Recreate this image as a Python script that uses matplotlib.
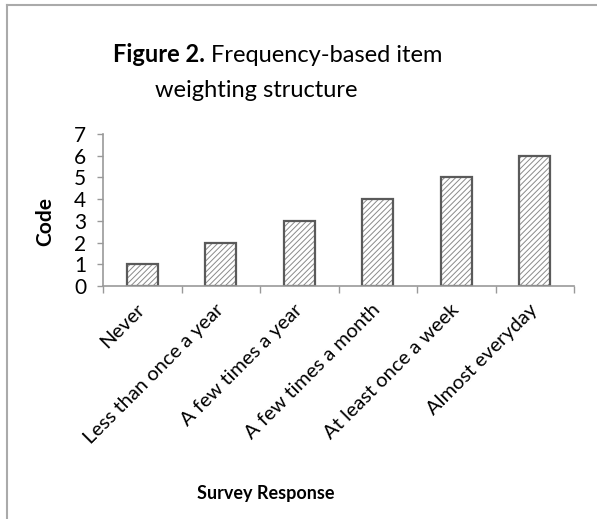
import matplotlib
matplotlib.use('Agg')
import matplotlib.pyplot as plt
from matplotlib.lines import Line2D

# 数据
categories = ['Never', 'Less than once a year', 'A few times a year',
              'A few times a month', 'At least once a week', 'Almost everyday']
codes = [1, 2, 3, 4, 5, 6]
y_ticks = [0, 1, 2, 3, 4, 5, 6, 7]

plt.rcParams['font.family'] = ['Lato', 'DejaVu Sans']
plt.rcParams['hatch.linewidth'] = 0.7

W, H = 597, 519
fig = plt.figure(figsize=(W / 100, H / 100), dpi=100)
ax = fig.add_axes([103 / W, 1 - 286 / H, (574 - 103) / W, (286 - 134) / H])

x = list(range(len(categories)))
# 斜线填充 + 外框分两次画
ax.bar(x, codes, width=0.4, color='white', edgecolor='#8a8a8a',
       linewidth=0, hatch='//////')
ax.bar(x, codes, width=0.4, color='none', edgecolor='#5a5a5a', linewidth=1.6)

ax.set_xlim(-0.5, len(categories) - 0.5)
ax.set_ylim(0, 7)
ax.set_yticks(y_ticks)
ax.tick_params(axis='y', labelsize=15, length=4, color='#999999', width=1, pad=8)
# x 轴刻度在类别边界
ax.set_xticks([i - 0.5 for i in range(len(categories) + 1)])
ax.set_xticklabels([])
ax.tick_params(axis='x', length=5, color='#999999', width=1)
ax.set_xticks(x, minor=True)
ax.set_xticklabels(categories, minor=True, rotation=45, ha='right',
                   va='center', rotation_mode='anchor', fontsize=14.5)
ax.tick_params(axis='x', which='minor', length=0, pad=15)

for s in ['top', 'right']:
    ax.spines[s].set_visible(False)
for s in ['left', 'bottom']:
    ax.spines[s].set_color('#999999')
    ax.spines[s].set_linewidth(1.2)

# 标签
fig.text(45 / W, 1 - 221 / H, 'Code', rotation=90, fontsize=15,
         fontweight='bold', ha='center', va='center')
fig.text(266 / W, 1 - 493 / H, 'Survey Response', fontsize=13,
         fontweight='bold', ha='center', va='center')

# 标题 (两种字重)
r = fig.canvas.get_renderer()
t1 = fig.text(113 / W, 1 - 62 / H, 'Figure 2.', fontsize=17,
              fontweight='bold', ha='left', va='baseline')
bb = t1.get_window_extent(r)
fig.text(bb.x1 / W, 1 - 62 / H, ' Frequency-based item', fontsize=17,
         ha='left', va='baseline')
fig.text(256 / W, 1 - 97 / H, 'weighting structure', fontsize=17,
         ha='center', va='baseline')

# 边框
fig.add_artist(Line2D([7 / W, 1], [1 - 5 / H, 1 - 5 / H], color='#aaaaaa', lw=1.5))
fig.add_artist(Line2D([7 / W, 7 / W], [0, 1 - 5 / H], color='#aaaaaa', lw=1.5))

fig.savefig('out.png', dpi=100)
